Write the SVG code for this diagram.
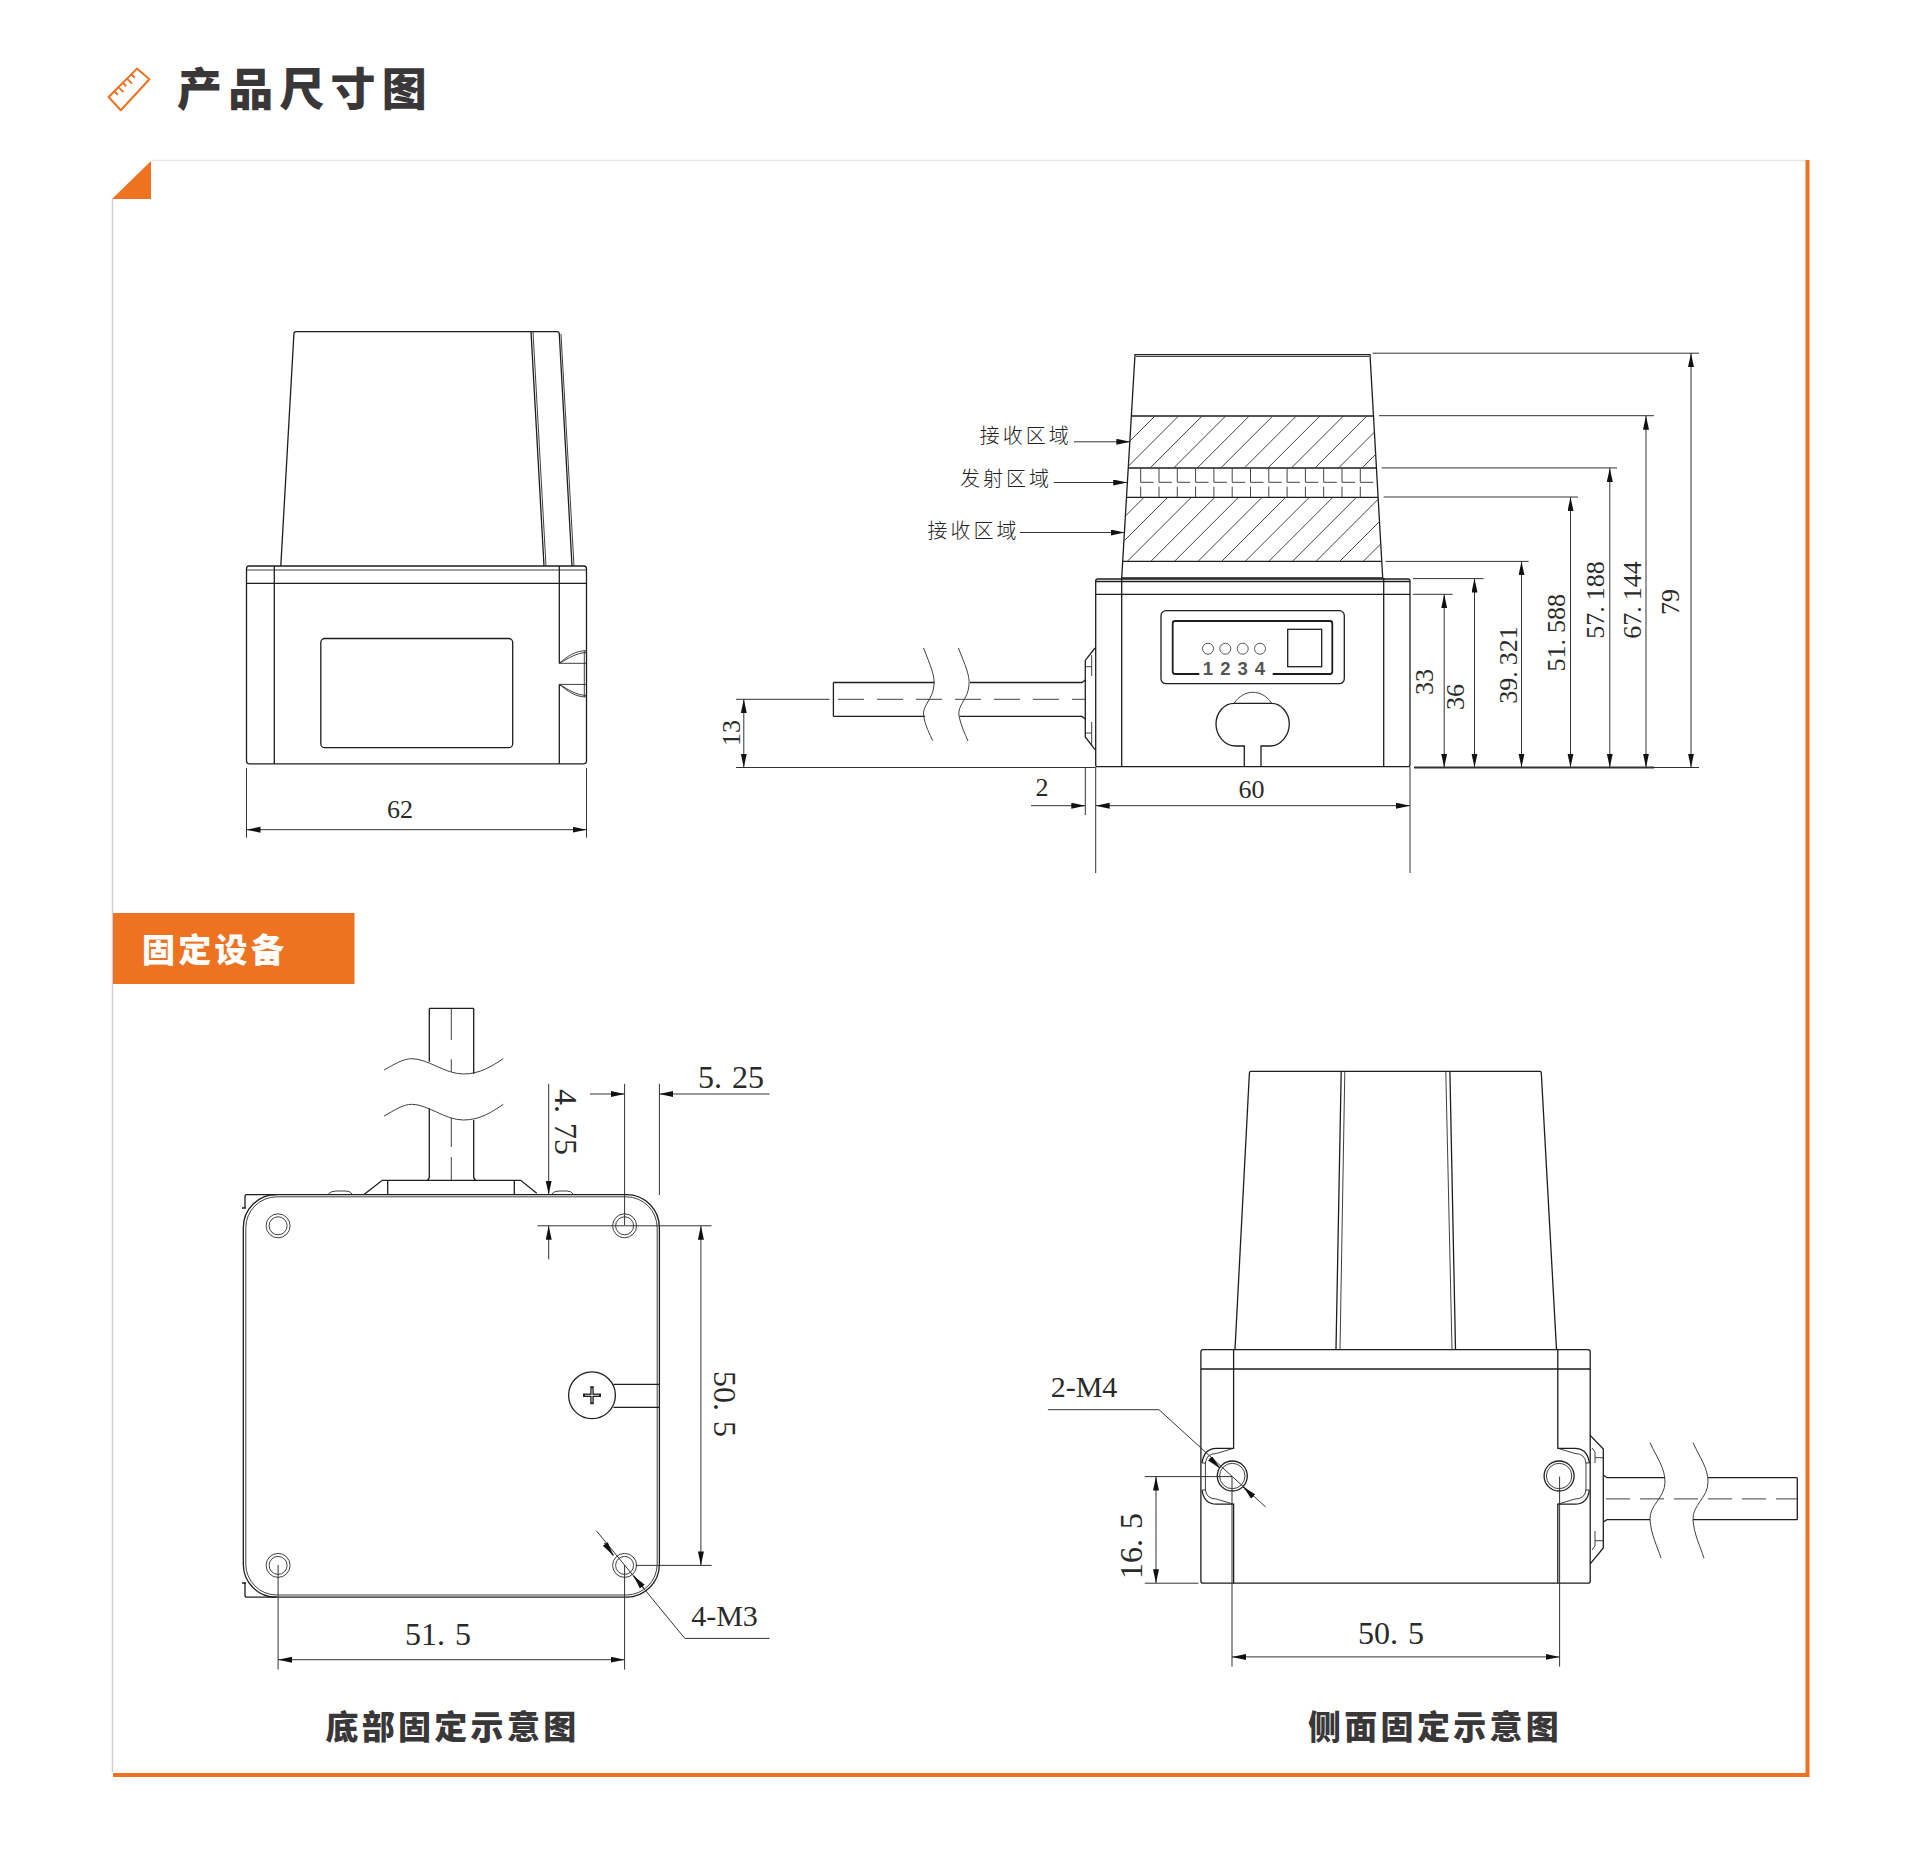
<svg xmlns="http://www.w3.org/2000/svg" width="1920" height="1859" viewBox="0 0 1920 1859">
<style>
.l{fill:none;stroke:#1e1e1e;stroke-width:1.3}
.t{fill:none;stroke:#2a2a2a;stroke-width:.9}
.h{fill:none;stroke:#444;stroke-width:1}
.d{fill:none;stroke:#333;stroke-width:1}
.a{marker-end:url(#ar)}
.aa{marker-start:url(#ars);marker-end:url(#ar)}
.n{font-family:"Liberation Serif",serif;fill:#2a2a2a;text-anchor:middle}
.s{font-size:26px}
.b{font-size:32px}
.c{font-family:"Noto Sans CJK SC","Noto Sans",sans-serif;font-size:20px;font-weight:300;letter-spacing:3px;fill:#222}
.k{font-family:"Noto Sans CJK SC","Noto Sans",sans-serif;font-weight:900;font-size:33px;letter-spacing:3.300px;fill:#3a3738}
</style>
<defs>
<marker id="ar" markerUnits="userSpaceOnUse" markerWidth="15" markerHeight="7" refX="14" refY="3" orient="auto"><path d="M0,0L14,3L0,6z" fill="#111"/></marker>
<marker id="ars" markerUnits="userSpaceOnUse" markerWidth="15" markerHeight="7" refX="14" refY="3" orient="auto-start-reverse"><path d="M0,0L14,3L0,6z" fill="#111"/></marker>
<clipPath id="c1"><polygon points="1131.4,416 1373.5,416 1376.5,468 1128.3,468"/></clipPath>
<clipPath id="c2"><polygon points="1126.5,497.3 1378.2,497.3 1381.8,561.3 1122.7,561.3"/></clipPath>
</defs>
<rect width="1920" height="1859" fill="#fff"/>

<g id="header">
<g fill="none" stroke="#ed7222" stroke-width="2" stroke-linejoin="round">
<polygon points="108.6,97 137,68.6 149.4,79.3 120.8,110.3"/>
<path d="M114.300,91.300l3.500,3.500M118.500,87.100l5,5M122.800,82.800l3.500,3.500M127,78.600l5,5M131.300,74.300l3.500,3.500"/>
</g>
<text x="177" y="106" class="k" style="font-size:45px;letter-spacing:6.200px">产品尺寸图</text>
</g>

<g id="panel">
<path d="M151,160.500H1806" fill="none" stroke="#e8e8e8" stroke-width="1.500"/>
<path d="M112.500,199V1772" fill="none" stroke="#cfcfcf" stroke-width="1.500"/>
<path d="M1807.500,160V1775H113" fill="none" stroke="#ed7222" stroke-width="4"/>
<polygon points="151,161 151,199 112,199" fill="#ed7222"/>
</g>

<g id="device-front">
<path class="l" d="M246.500,569Q246.500,566 249,566H584Q586.500,566 586.500,569V761Q586.500,763.800 584,763.800H249Q246.500,763.800 246.500,761Z"/>
<path class="t" d="M246.500,570H586.500"/>
<path class="l" d="M246.500,583.300H586.500M274.300,566V763.800M559.300,566V663.300M559.300,684.400V763.800"/>
<path class="l" d="M280.800,566L293.900,334Q294,331.600 296,331.600H557Q559.200,331.600 559.300,334L572,566"/>
<path class="l" d="M531,331.600L544,566"/>
<path class="t" d="M533,331.600L546,566M561,334L574,566"/>
<rect class="l" x="320.800" y="638.500" width="191.900" height="109.200" rx="4"/>
<path class="t" d="M559.300,663.300C568,656 575,650.700 586.700,650.700M559.300,663.300C569,658 576,653 586.700,652.500M559.300,663.300H586.700M559.300,684.400C568,691 575,697 586.700,697M559.300,684.400C569,690 576,695 586.700,695.500M559.300,684.400H586.700M584.300,650.700V697"/>
</g>

<g id="device-side">
<path class="l" d="M1135,354.700H1370L1382.700,578H1121.700Z"/>
<path class="t" d="M1136,356.500H1369"/>
<path class="l" d="M1131.400,416H1373.500M1128.300,468H1376.500M1126.500,497.300H1378.200M1122.700,561.300H1381.800"/>
<path class="h" clip-path="url(#c1)" d="M1155,416l-52,52M1178.550,416l-52,52M1202.100,416l-52,52M1225.650,416l-52,52M1249.200,416l-52,52M1272.750,416l-52,52M1296.300,416l-52,52M1319.850,416l-52,52M1343.400,416l-52,52M1366.950,416l-52,52M1390.500,416l-52,52M1414.050,416l-52,52"/>
<path class="h" clip-path="url(#c2)" d="M1080.100,561.300l64,-64M1103.700,561.300l64,-64M1127.300,561.300l64,-64M1150.900,561.300l64,-64M1174.500,561.300l64,-64M1198.100,561.300l64,-64M1221.700,561.300l64,-64M1245.300,561.300l64,-64M1268.900,561.300l64,-64M1292.500,561.300l64,-64M1316.100,561.300l64,-64M1339.700,561.300l64,-64M1363.300,561.300l64,-64"/>
<path class="h" d="M1140.700,468V482.300h13M1140.700,486.700V497.300M1159,468V482.300h13M1159,486.700V497.300M1177.300,468V482.300h13M1177.300,486.700V497.300M1195.600,468V482.300h13M1195.600,486.700V497.300M1213.900,468V482.300h13M1213.900,486.700V497.300M1232.200,468V482.300h13M1232.200,486.700V497.300M1250.500,468V482.300h13M1250.500,486.700V497.300M1268.800,468V482.300h13M1268.800,486.700V497.300M1287.100,468V482.300h13M1287.100,486.700V497.300M1305.400,468V482.300h13M1305.400,486.700V497.300M1323.700,468V482.300h13M1323.700,486.700V497.300M1342,468V482.300h13M1342,486.700V497.300M1360.300,468V482.300h13M1360.300,486.700V497.300"/>
<path class="l" d="M1095.700,581Q1095.700,579 1098,579H1408Q1410,579 1410,581V764.500Q1410,766.700 1408,766.700H1097Q1095.700,766.700 1095.700,764.500Z"/>
<path class="l" d="M1095.700,581.500H1410M1095.700,594.300H1410M1121.700,578V766.700M1383.700,578V766.700"/>
<rect class="l" x="1161" y="610.700" width="183.300" height="73" rx="5"/>
<path class="l" style="stroke-width:1.800" d="M1199.300,674H1175Q1172.700,674 1172.700,671.500V623.500Q1172.700,621 1175,621H1330Q1332.300,621 1332.300,623.500V671.500Q1332.300,674 1330,674H1272.700"/>
<rect class="l" x="1287.700" y="629.300" width="34" height="37.400"/>
<g fill="none" stroke="#555" stroke-width="1"><circle cx="1208" cy="648.700" r="5.500"/><circle cx="1225.300" cy="648.700" r="5.500"/><circle cx="1242.700" cy="648.700" r="5.500"/><circle cx="1260" cy="648.700" r="5.500"/></g>
<g font-family="Liberation Sans,sans-serif" font-size="18.500" fill="#555" font-weight="700" text-anchor="middle"><text x="1208" y="675">1</text><text x="1225.300" y="675">2</text><text x="1242.700" y="675">3</text><text x="1260" y="675">4</text></g>
<path class="l" d="M1244.300,766V746H1236C1224,746 1216,735 1216,724C1216,713 1224,703.300 1234,703.300H1271.700C1281,703.300 1289.300,713 1289.300,724C1289.300,735 1281,746 1270,746H1261V766"/>
<path class="t" d="M1234,703.300C1239,696 1246,692.300 1252.700,692.300C1260,692.300 1267,696 1271.700,703.300"/>
<path class="l" d="M1095,648L1085.300,660.400V737L1095,749.600"/>
<path class="t" d="M1091.700,655V676M1085.300,666.700H1091.700M1091.700,722V745M1085.300,733H1091.700"/>
<path class="l" d="M833.400,682.500H934.600M970,682.500H1082L1085.300,680M833.400,716.400H924.900M959.700,716.400H1082L1085.300,719M833.400,682.500V716.400"/>
<path class="t" d="M923.600,648C930,665 935,675 934,685C933,700 922,705 923.600,716C925,726 930,734 932.600,740.700M958.400,648C965,665 970,675 969,685C968,700 957,705 959,716C961,726 965,734 968,741"/>
<path class="t" stroke-dasharray="26 13" d="M838,699.300H1085"/>
</g>

<g id="banner">
<rect x="113" y="913" width="241.500" height="71" fill="#ed7222"/>
<text x="142" y="961.500" class="k" style="fill:#fff">固定设备</text>
</g>

<g id="device-bottom">
<rect class="l" x="243.300" y="1194.600" width="416.100" height="402.600" rx="33"/>
<rect class="t" x="245.800" y="1196.800" width="411.400" height="398.200" rx="31"/>
<path class="l" d="M276.700,1194.600H246.500Q245,1194.600 245,1197V1208M242,1208H246M276.700,1597.200H246.500Q245,1597.200 245,1595V1583M242,1583H246"/>
<g class="t"><circle cx="278.100" cy="1225.800" r="12"/><circle cx="278.100" cy="1225.800" r="9"/><circle cx="624.600" cy="1225.800" r="12"/><circle cx="624.600" cy="1225.800" r="9"/><circle cx="278.100" cy="1565.400" r="12"/><circle cx="278.100" cy="1565.400" r="9"/><circle cx="624.600" cy="1565.400" r="12"/><circle cx="624.600" cy="1565.400" r="9"/></g>
<circle class="l" cx="592" cy="1395.300" r="23.400" fill="#fff"/>
<path d="M583,1395.300H601M592,1386.300V1404.300" fill="none" stroke="#222" stroke-width="3.500"/>
<path d="M585,1395.300H599M592,1388.300V1402.300" fill="none" stroke="#fff" stroke-width=".8"/>
<path class="l" d="M613.400,1384.400H659.400M613.400,1407.400H659.400"/>
<path class="l" d="M429.300,1008.300H473.700M429.300,1008.300V1061.700M473.700,1008.300V1074M429.300,1108.300V1178M473.700,1120V1178"/>
<path class="t" d="M384,1070C395,1064 403,1058.700 411.700,1058.700C428,1058.700 445,1074 463.300,1074C480,1074 492,1066 503.300,1058.700M384,1116C395,1110 403,1104.300 411.700,1104.300C428,1104.300 445,1120 463.300,1120C480,1120 492,1112 503.300,1104.300"/>
<path class="t" d="M451.300,1008.300V1040M451.300,1059.300V1071.700M451.300,1118V1147M451.300,1157V1180.300"/>
<path class="l" d="M364.300,1194.300L382.300,1180.300H520.700L536.700,1193.300M427.300,1180.300L429.300,1178M473.700,1178L475.700,1180.300M387.700,1180.300V1194.300M514.300,1180.300V1194.300"/>
<path class="t" d="M328.300,1194Q331,1191 336,1191H346Q350,1191 352,1194M551.700,1194Q554,1191 559,1191H567Q571,1191 573,1194"/>
</g>

<g id="device-mount">
<path class="l" d="M1235,1349.600L1249.400,1073Q1249.500,1071.300 1251,1071.300H1540Q1541.200,1071.300 1541.300,1073L1556.500,1349.600"/>
<path class="l" d="M1341.200,1071.300L1336,1349.600M1449.900,1071.300L1455.500,1349.600"/>
<path class="t" d="M1344.800,1071.300L1340,1349.600M1445.800,1071.300L1452,1349.600"/>
<path class="l" d="M1200.900,1352Q1200.900,1349.600 1203,1349.600H1588Q1590.200,1349.600 1590.200,1352V1581Q1590.200,1583.200 1588,1583.200H1203Q1200.900,1583.200 1200.900,1581Z"/>
<path class="l" d="M1200.900,1369H1590.200"/>
<g id="mount-notch">
<path class="l" d="M1233.600,1349.600V1448.300H1216.400Q1204,1448.300 1202,1463M1233.600,1583.200V1504.200H1216.400Q1204,1504.200 1202,1490"/>
<path class="t" d="M1233.600,1448.300L1216.400,1453.500Q1206.500,1453.500 1205.400,1463V1490Q1206.500,1499 1216.400,1499L1233.600,1504.200M1202,1463H1206M1202,1490H1206"/>
<circle class="l" cx="1232.300" cy="1476" r="15"/>
<circle class="t" cx="1232.300" cy="1476" r="12.700"/>
</g>
<use href="#mount-notch" transform="translate(2791.400,0) scale(-1,1)"/>
<path class="l" d="M1590.200,1435.400L1603.300,1449V1548L1590.200,1563.800"/>
<path class="t" d="M1592,1448L1595,1452V1463M1595,1457.700H1603.300M1592,1550L1595,1546V1531M1595,1540.700H1603.300"/>
<path class="l" d="M1603.300,1475L1607,1477.700H1665M1708,1477.700H1797.300M1603.300,1522L1607,1519.700H1650M1693,1519.700H1797.300M1797.300,1477.700V1519.700"/>
<path class="t" d="M1650,1442.600C1657,1458 1665,1468 1665,1482C1665,1498 1649,1505 1650,1520C1651,1534 1657,1546 1661,1558M1693,1442.600C1700,1458 1708,1468 1708,1482C1708,1498 1692,1505 1693,1520C1694,1534 1700,1546 1704,1558"/>
<path class="t" stroke-dasharray="24 10" d="M1606,1498.900H1797.300"/>
</g>

<g id="connectors">
<path class="d" d="M246.500,768V837.700M586.500,768V837.700"/>
<path class="d aa" d="M246.500,829.700H586.500"/>

<path class="d" d="M736,699.300H829.500M736,767.500H1095"/>
<path class="d aa" d="M743.800,699.300V767.500"/>
<path class="d" d="M1095.700,767V873M1410,767V873M1085.300,767V815"/>
<path class="d aa" d="M1095.700,805.700H1410"/>
<path class="d a" d="M1031,805.700H1085.300"/>
<path class="d" style="stroke-width:1.800" d="M1414,767.500H1654"/>
<path class="d" d="M1654,767.500H1699M1413,594.300H1452.600M1413,578.600H1483.500M1385.600,561.400H1528.600M1383.700,497H1578M1381.700,467.900H1617M1379,415.700H1654M1372.700,353.200H1699"/>
<path class="d aa" d="M1444.200,594.300V767.500"/>
<path class="d aa" d="M1474.500,578.600V767.500"/>
<path class="d aa" d="M1521.500,561.400V767.500"/>
<path class="d aa" d="M1570.500,497V767.500"/>
<path class="d aa" d="M1609.800,467.900V767.500"/>
<path class="d aa" d="M1646,415.700V767.500"/>
<path class="d aa" d="M1691,353.200V767.500"/>
<path class="d a" d="M1074,441.800H1130.400"/>
<path class="d a" d="M1053.800,482.500H1127.200"/>
<path class="d a" d="M1020,532.500H1124.600"/>

<path class="d" d="M624.600,1083.800V1225M659.400,1083.800V1195M537.500,1225.800H711.600M635.700,1565.400H711.600M278.100,1565V1669.600M624.600,1565V1669.600"/>
<path class="d a" d="M590,1094H624.600"/>
<path class="d a" d="M769.600,1094H659.400"/>
<path class="d a" d="M548.700,1083.800V1194.600"/>
<path class="d a" d="M548.700,1259.300V1225.800"/>
<path class="d aa" d="M700.900,1225.800V1565.400"/>
<path class="d aa" d="M278.100,1659.700H624.600"/>
<path class="d" d="M596.400,1530.800L684.800,1638.400H769.600"/>
<path class="d a" style="stroke-width:1.500" d="M604.500,1543L613.400,1555.500"/>
<path class="d a" style="stroke-width:1.500" d="M643.700,1588.400L633.500,1575.800"/>

<path class="d" d="M1047.900,1409.700H1159L1265.700,1507M1144.800,1476.600H1232M1144.800,1583.200H1198.400M1232,1476.600V1666.600M1559.600,1476.600V1666.600"/>
<path class="d a" style="stroke-width:1.500" d="M1210,1458.300L1220,1468.300"/>
<path class="d a" style="stroke-width:1.500" d="M1253.300,1496.700L1243.300,1486.700"/>
<path class="d aa" d="M1156,1476.600V1583.200"/>
<path class="d aa" d="M1232,1656.900H1559.600"/>
</g>

<g id="labels">
<text class="n s" x="400" y="818">62</text>
<text class="n s" x="1251.600" y="798">60</text>
<text class="n s" x="1042" y="796">2</text>
<text class="n s" transform="translate(740,733) rotate(-90)">13</text>
<text class="n s" transform="translate(1433,682) rotate(-90)">33</text>
<text class="n s" transform="translate(1464,697) rotate(-90)">36</text>
<text class="n s" dx="0 0 0 6 0 0" transform="translate(1517,665) rotate(-90)">39.321</text>
<text class="n s" dx="0 0 0 6 0 0" transform="translate(1565,632.700) rotate(-90)">51.588</text>
<text class="n s" dx="0 0 0 6 0 0" transform="translate(1604,600) rotate(-90)">57.188</text>
<text class="n s" dx="0 0 0 6 0 0" transform="translate(1641,600) rotate(-90)">67.144</text>
<text class="n s" transform="translate(1679,602) rotate(-90)">79</text>
<text class="c" x="979.700" y="443">接收区域</text>
<text class="c" x="960" y="486">发射区域</text>
<text class="c" x="927.500" y="538">接收区域</text>
<text class="n b" dx="0 0 10 0" x="731" y="1088">5.25</text>
<text class="n b" dx="0 0 10 0" transform="translate(555,1122) rotate(90)">4.75</text>
<text class="n b" dx="0 0 0 10" transform="translate(714,1404) rotate(90)">50.5</text>
<text class="n b" dx="0 0 0 10" x="438" y="1645">51.5</text>
<text class="n" font-size="30" x="724.500" y="1626">4-M3</text>
<text class="n" font-size="30" x="1084" y="1397">2-M4</text>
<text class="n b" dx="0 0 0 10" transform="translate(1142,1546) rotate(-90)">16.5</text>
<text class="n b" dx="0 0 0 10" x="1391" y="1644">50.5</text>
<text class="k" x="325.400" y="1739">底部固定示意图</text>
<text class="k" x="1308" y="1739">侧面固定示意图</text>
</g>
</svg>
